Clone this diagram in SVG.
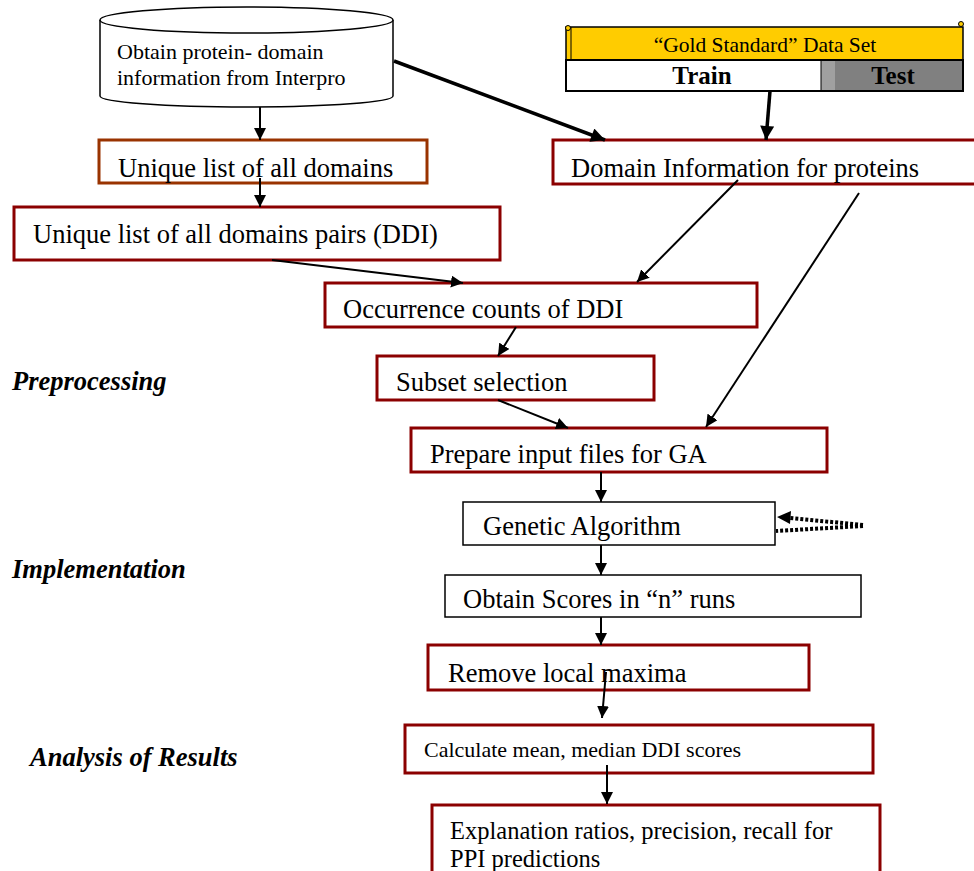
<svg xmlns="http://www.w3.org/2000/svg" width="974" height="871" viewBox="0 0 974 871">
<defs>
<marker id="ah" viewBox="0 0 12 12" refX="12" refY="6" markerWidth="12" markerHeight="12" markerUnits="userSpaceOnUse" orient="auto"><path d="M0,0 L12,6 L0,12 z" fill="#000"/></marker>
<marker id="ahb" viewBox="0 0 12 12" refX="12" refY="6" markerWidth="15" markerHeight="14" markerUnits="userSpaceOnUse" orient="auto"><path d="M0,0 L12,6 L0,12 z" fill="#000"/></marker>
</defs>
<style>
.box{fill:#fff;stroke:#8b0000;stroke-width:3}
.boxo{fill:#fff;stroke:#993300;stroke-width:3}
.boxk{fill:#fff;stroke:#000;stroke-width:1.5}
text{font-family:'Liberation Serif','DejaVu Serif','Noto Serif',serif;fill:#000}
.t{font-size:26.5px}
.ts{font-size:22px}
.lab{font-size:26.5px;font-weight:bold;font-style:italic}
.c{stroke:#000;stroke-width:2;fill:none;marker-end:url(#ah)}
.cb{stroke:#000;stroke-width:3.5;fill:none;marker-end:url(#ahb)}
.dot{stroke:#000;stroke-width:4;fill:none;stroke-dasharray:3 2}
</style>
<rect width="974" height="871" fill="#fff"/>

<g id="interpro">
<path d="M100,20 L100,96 A146.5,11 0 0 0 393,96 L393,20" fill="#fff" stroke="#000" stroke-width="1.5"/>
<ellipse cx="246.5" cy="20" rx="146.5" ry="13" fill="#fff" stroke="#000" stroke-width="1.5"/>
<text class="ts" x="117" y="59">Obtain protein- domain</text>
<text class="ts" x="117" y="85">information from Interpro</text>
</g>

<g id="goldstandard">
<rect x="566" y="27" width="397" height="33" fill="#ffcc00" stroke="#000" stroke-width="1.5"/>
<line x1="571" y1="27" x2="571" y2="60" stroke="#000" stroke-width="1"/>
<circle cx="568" cy="28" r="2.5" fill="#ffcc00" stroke="#000" stroke-width="1"/>
<circle cx="961" cy="24" r="2.5" fill="#ffcc00" stroke="#000" stroke-width="1"/>
<text x="765" y="52" text-anchor="middle" font-size="21.5">“Gold Standard” Data Set</text>
<rect x="566" y="60" width="397" height="31" fill="#fff" stroke="#000" stroke-width="2"/>
<rect x="821" y="61" width="141" height="29" fill="#808080"/>
<rect x="821" y="61" width="14" height="29" fill="#a0a0a0"/>
<line x1="821" y1="60" x2="821" y2="91" stroke="#000" stroke-width="1"/>
<text x="702" y="84" text-anchor="middle" font-size="25" font-weight="bold">Train</text>
<text x="893" y="84" text-anchor="middle" font-size="25" font-weight="bold">Test</text>
</g>

<g id="unique">
<rect class="boxo" x="99" y="140" width="328" height="43"/>
<text class="t" x="118" y="177">Unique list of all domains</text>
</g>

<g id="domaininfo">
<rect class="box" x="553" y="140" width="430" height="44"/>
<text class="t" x="571" y="177">Domain Information for proteins</text>
</g>

<g id="ddi">
<rect class="box" x="14" y="207" width="486" height="53"/>
<text class="t" x="33" y="243">Unique list of all domains pairs (DDI)</text>
</g>

<g id="occurrence">
<rect class="box" x="325" y="283" width="432" height="44"/>
<text class="t" x="343" y="318">Occurrence counts of DDI</text>
</g>

<g id="subset">
<rect class="box" x="377" y="356" width="277" height="44"/>
<text class="t" x="396" y="391">Subset selection</text>
</g>

<g id="prepare">
<rect class="box" x="411" y="428" width="416" height="44"/>
<text class="t" x="430" y="463">Prepare input files for GA</text>
</g>

<g id="ga">
<rect class="boxk" x="463" y="502" width="312" height="43"/>
<text class="t" x="483" y="535">Genetic Algorithm</text>
</g>

<g id="scores">
<rect class="boxk" x="445" y="575" width="416" height="42"/>
<text class="t" x="463" y="608">Obtain Scores in “n” runs</text>
</g>

<g id="remove">
<rect class="box" x="428" y="645" width="381" height="45"/>
<text class="t" x="448" y="682">Remove local maxima</text>
</g>

<g id="calculate">
<rect class="box" x="405" y="725" width="468" height="48"/>
<text class="ts" x="424" y="757">Calculate mean, median DDI scores</text>
</g>

<g id="explanation">
<rect class="box" x="432" y="805" width="448" height="80"/>
<text x="450" y="839" font-size="24.5">Explanation ratios, precision, recall for</text>
<text x="450" y="867" font-size="24.5">PPI predictions</text>
</g>

<g id="labels">
<text class="lab" x="12" y="390">Preprocessing</text>
<text class="lab" x="12" y="578">Implementation</text>
<text class="lab" x="30" y="766">Analysis of Results</text>
</g>

<g id="connectors">
<line class="c" x1="260" y1="107" x2="260" y2="140"/>
<line class="c" x1="260" y1="178" x2="260" y2="207"/>
<line class="cb" x1="394" y1="61" x2="605" y2="140"/>
<line class="cb" x1="770" y1="91" x2="766" y2="140"/>
<line class="c" x1="272" y1="260" x2="463" y2="283"/>
<line class="c" x1="738" y1="180" x2="637" y2="282"/>
<line class="c" x1="859" y1="193" x2="706" y2="427"/>
<line class="c" x1="516" y1="327" x2="498" y2="356"/>
<line class="c" x1="498" y1="400" x2="568" y2="428"/>
<line class="c" x1="601" y1="472" x2="601" y2="502"/>
<line class="c" x1="601" y1="545" x2="601" y2="575"/>
<line class="c" x1="601" y1="617" x2="601" y2="645"/>
<line class="c" x1="606" y1="672" x2="602" y2="718"/>
<line class="c" x1="607" y1="765" x2="607" y2="804"/>
<line class="dot" x1="863" y1="525" x2="790" y2="518"/>
<path d="M777,517 L791,511 L790,524 z" fill="#000"/>
<line class="dot" x1="863" y1="526" x2="776" y2="531"/>
</g>
</svg>
